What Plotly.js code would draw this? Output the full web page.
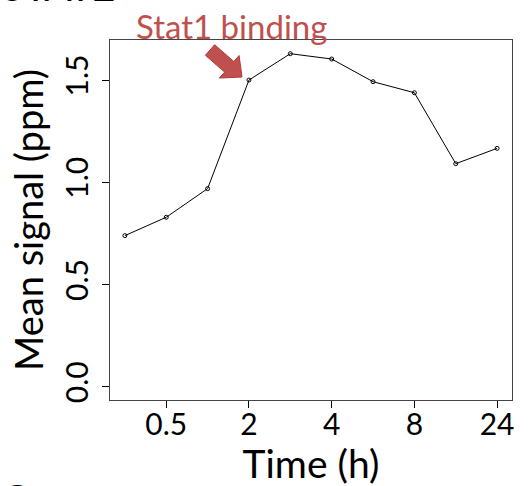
<!DOCTYPE html>
<html>
<head>
<meta charset="utf-8">
<script src="https://cdn.plot.ly/plotly-3.0.1.min.js"></script>
<style>html,body{margin:0;padding:0;background:#fff;}#chart{width:528px;height:486px;}</style>
</head>
<body>
<div id="chart"></div>
<script>
// Time points (h) in sampling order; only some are labelled on the axis
var timePoints = ['0', '0.5', '1', '2', '3', '4', '6', '8', '12', '24'];
var meanSignal = [0.739, 0.829, 0.969, 1.500, 1.629, 1.603, 1.492, 1.438, 1.091, 1.166];
var xTickLabels = ['0.5', '2', '4', '8', '24'];
var yTickVals = [0, 0.5, 1.0, 1.5];
var yTickText = ['0.0', '0.5', '1.0', '1.5'];

var xPos = timePoints.map(function (t, i) { return i + 1; });
var xTickVals = xTickLabels.map(function (l) { return timePoints.indexOf(l) + 1; });

var W = 528, H = 486, ML = 110, MR = 16, MT = 40, MB = 86;
var PW = W - ML - MR, PH = H - MT - MB;
function px(x) { return (x - ML) / PW; }
function py(y) { return (H - MB - y) / PH; }

// arrow polygon (pixel geometry -> paper)
var arrowPts = [[205.4,55.3],[214.6,44.7],[233.8,61.5],[239.1,55.5],[242,77],[219.3,78.1],[224.6,72.1]];
var arrowPath = arrowPts.map(function (p, i) {
  return (i === 0 ? 'M' : 'L') + px(p[0]).toFixed(4) + ',' + py(p[1]).toFixed(4);
}).join(' ') + ' Z';

var font = 'Lato, "Open Sans", sans-serif';

var trace = {
  x: xPos,
  y: meanSignal,
  type: 'scatter',
  mode: 'lines+markers',
  line: { color: '#000', width: 1 },
  marker: { symbol: 'circle-open', size: 4, color: '#000', line: { width: 1, color: '#000' } },
  hoverinfo: 'skip'
};

var layout = {
  width: W, height: H,
  margin: { l: ML, r: MR, t: MT, b: MB, pad: 0 },
  paper_bgcolor: '#fff', plot_bgcolor: '#fff',
  showlegend: false,
  font: { family: font, color: '#000' },
  xaxis: {
    range: [0.64, 10.36],
    tickmode: 'array', tickvals: xTickVals, ticktext: xTickLabels,
    ticks: 'outside', ticklen: 7, tickwidth: 1, tickcolor: '#000',
    ticklabelstandoff: -9,
    showline: true, mirror: true, linecolor: '#444', linewidth: 1,
    showgrid: false, zeroline: false,
    tickfont: { size: 30, family: font, color: '#000' },
    title: { text: 'Time (h)', font: { size: 39, family: font, color: '#000' }, standoff: 0 }
  },
  yaxis: {
    range: [-0.065, 1.696],
    tickmode: 'array', tickvals: yTickVals, ticktext: yTickText,
    tickangle: -90,
    ticks: 'outside', ticklen: 7, tickwidth: 1, tickcolor: '#000',
    ticklabelstandoff: 2,
    showline: true, mirror: true, linecolor: '#444', linewidth: 1,
    showgrid: false, zeroline: false,
    tickfont: { size: 30, family: font, color: '#000' },
    title: { text: 'Mean signal (ppm)', font: { size: 38, family: font, color: '#000' }, standoff: 2 }
  },
  shapes: [
    { type: 'path', xref: 'paper', yref: 'paper', path: arrowPath,
      fillcolor: '#C0504D', line: { color: '#B03A37', width: 1 } }
  ],
  annotations: [
    { text: 'Stat1 binding', xref: 'paper', yref: 'paper', x: px(231), y: py(26),
      xanchor: 'center', yanchor: 'middle', showarrow: false,
      font: { size: 33, family: font, color: '#C0504D' } },
    { text: 'STAT2', xref: 'paper', yref: 'paper', x: px(0), y: py(12),
      xanchor: 'left', yanchor: 'bottom', showarrow: false,
      font: { size: 40, family: font, color: '#000' } },
    { text: '<b>C</b>', xref: 'paper', yref: 'paper', x: px(-2), y: py(472),
      xanchor: 'left', yanchor: 'top', showarrow: false,
      font: { size: 44, family: font, color: '#000' } }
  ]
};

Plotly.newPlot('chart', [trace], layout, { staticPlot: true, displayModeBar: false });
</script>
</body>
</html>
